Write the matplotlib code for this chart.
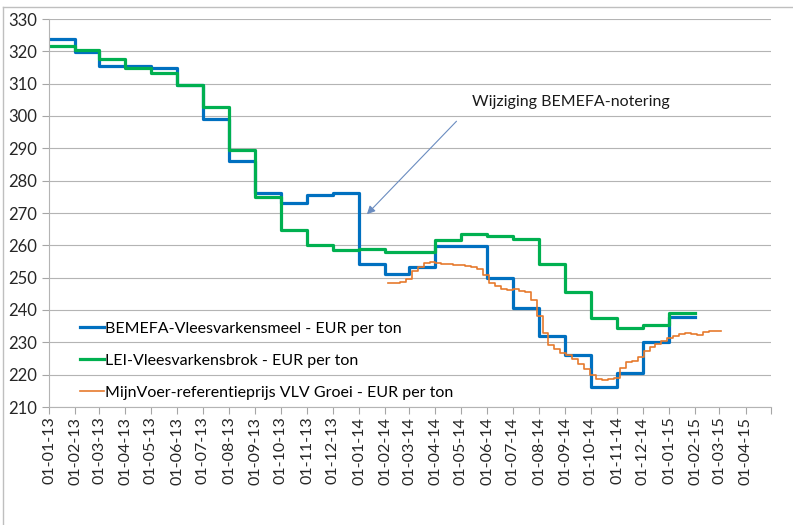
import pandas as pd
import matplotlib
matplotlib.use('Agg')
import matplotlib.pyplot as plt
from matplotlib.lines import Line2D

plt.rcParams['font.family'] = ['Lato', 'DejaVu Sans']

# monthly notations, Jan 2013 .. Jan 2015
month_start = '2013-01-01'
bemefa = [323.7, 319.9, 315.5, 315.6, 314.9, 309.6, 299.0, 286.2, 276.3, 273.1, 275.7, 276.2,
          254.3, 251.2, 253.3, 259.9, 259.9, 250.0, 240.7, 232.0, 226.1, 216.3, 220.5, 230.0,
          237.7]
lei = [321.6, 320.4, 317.5, 314.9, 313.2, 309.6, 302.8, 289.5, 275.0, 264.7, 260.0, 258.7,
       259.0, 257.9, 257.9, 261.6, 263.4, 263.0, 262.1, 254.1, 245.6, 237.4, 234.5, 235.4,
       239.0]

# weekly reference price, from early Feb 2014
week_start = '2014-02-04'
mijnvoer = [248.2, 248.4, 248.6, 249.5, 252.0, 253.3, 254.4, 254.8, 254.6, 254.3,
            254.1, 253.9, 253.8, 253.6, 253.3, 252.6, 250.8, 248.5, 247.3, 246.6,
            246.1, 246.4, 245.9, 245.5, 243.0, 238.0, 233.0, 229.3, 227.8, 226.8,
            226.0, 225.0, 223.3, 221.6, 219.8, 218.6, 218.5, 218.6, 219.0, 222.0,
            223.8, 224.3, 225.5, 227.2, 228.5, 229.5, 230.4, 231.2, 231.9, 232.5,
            232.8, 232.6, 232.4, 233.1, 233.5, 233.5, 233.5]

labels = ['BEMEFA-Vleesvarkensmeel - EUR per ton',
          'LEI-Vleesvarkensbrok - EUR per ton',
          'MijnVoer-referentieprijs VLV Groei - EUR per ton']
note = 'Wijziging BEMEFA-notering'

# step series need an end point for the last month
m_dates = pd.date_range(month_start, periods=len(bemefa) + 1, freq='MS')
w_dates = pd.date_range(week_start, periods=len(mijnvoer), freq='7D')

fig = plt.figure(figsize=(7.93, 5.25), dpi=100)
ax = fig.add_axes([49 / 793, 1 - 407 / 525, 722 / 793, 388 / 525])

ax.plot(m_dates, bemefa + bemefa[-1:], drawstyle='steps-post', color='#0070C0', lw=2.3, label=labels[0])
ax.plot(m_dates, lei + lei[-1:], drawstyle='steps-post', color='#00B050', lw=2.3, label=labels[1])
ax.plot(w_dates, mijnvoer, drawstyle='steps-post', color='#E67A2E', lw=1.2, label=labels[2])

ticks = pd.date_range('2013-01-01', '2015-05-01', freq='MS')
ax.set_xlim(ticks[0], ticks[-1])
ax.set_xticks(ticks)
ax.set_xticklabels([d.strftime('%d-%m-%y') for d in ticks[:-1]] + [''], rotation=90,
                   fontsize=11.5, color='#262626')
ax.set_ylim(210, 330)
ax.set_yticks(range(210, 331, 10))
ax.tick_params(axis='y', labelsize=12, colors='#262626', length=5, color='#A6A6A6')
ax.tick_params(axis='x', length=5, color='#A6A6A6', pad=2)
ax.grid(axis='y', color='#B4B4B4', lw=0.8)
ax.set_axisbelow(True)
for s in ['top', 'right']:
    ax.spines[s].set_visible(False)
for s in ['left', 'bottom']:
    ax.spines[s].set_color('#B4B4B4')
    ax.spines[s].set_linewidth(0.8)

# annotation arrow pointing at the BEMEFA break
ax.annotate('', xy=(pd.Timestamp('2014-01-08'), 269.0), xytext=(pd.Timestamp('2014-04-28'), 299.0),
            arrowprops=dict(arrowstyle='-|>', color='#6A8CC0', lw=0.8, mutation_scale=12))
ax.text(pd.Timestamp('2014-09-07'), 304.3, note, fontsize=11.5, ha='center', va='center', color='#1a1a1a')

ax.legend(loc='lower left', bbox_to_anchor=(0.027, -0.01), frameon=False, fontsize=11.5,
          handlelength=1.5, handletextpad=0.1, labelspacing=1.12, borderaxespad=0.3)

# chart area border (top and left edges visible)
fig.add_artist(Line2D([3 / 793, 1], [1 - 7 / 525, 1 - 7 / 525], color='#BFBFBF', lw=1))
fig.add_artist(Line2D([3 / 793, 3 / 793], [0, 1 - 7 / 525], color='#BFBFBF', lw=1))

fig.savefig('out.png', dpi=100)
